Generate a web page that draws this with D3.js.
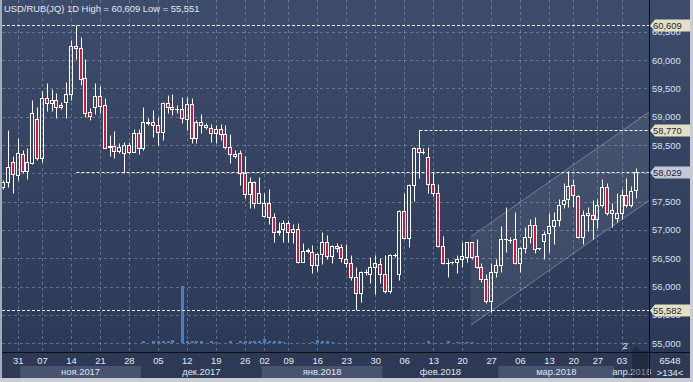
<!DOCTYPE html>
<html>
<head>
<meta charset="utf-8">
<script src="https://cdn.jsdelivr.net/npm/d3@7"></script>
<style>
  html, body { margin: 0; padding: 0; background: #2e3a56; }
  svg { display: block; font-family: "Liberation Sans", Arial, sans-serif; }
</style>
</head>
<body>
<svg width="693" height="382"></svg>
<script>
// daily bars, oldest first (USD/RUB, roubles)
const openP = [57.754,57.842,58.195,57.971,58.336,58.047,58.188,58.954,58.265,59.324,59.236,59.294,
  59.201,59.254,59.395,60.247,60.206,59.677,59.077,59.176,59.365,59.201,58.460,58.482,
  58.400,58.354,58.500,58.382,58.717,58.452,58.894,58.901,58.848,58.735,59.236,59.165,
  59.130,59.130,58.954,59.224,58.618,58.906,58.823,58.795,58.707,58.777,58.694,58.460,
  58.336,58.354,58.001,57.630,57.842,57.482,57.252,57.471,57.224,56.970,57.012,57.129,
  56.960,57.012,56.441,56.635,56.617,56.383,56.577,56.794,56.541,56.723,56.695,56.483,
  56.412,56.176,55.883,56.254,56.218,56.342,56.395,56.224,55.929,56.554,56.218,57.335,
  56.864,57.794,58.442,58.371,58.283,57.807,57.648,56.723,56.412,56.430,56.441,56.488,
  56.529,56.783,56.541,56.342,56.130,55.747,56.264,56.383,56.836,56.824,56.836,56.412,
  56.677,56.871,57.088,56.674,56.811,56.942,57.071,57.177,57.459,57.542,57.794,57.605,
  56.882,57.265,57.265,57.189,57.441,57.754,57.295,57.207,57.305,57.618,57.441,57.706];
const highP = [57.882,58.765,58.306,58.618,58.412,58.452,59.294,59.165,59.453,59.589,59.483,59.412,
  59.264,59.617,60.353,60.609,60.401,60.012,59.158,59.589,59.541,59.324,58.677,58.747,
  58.541,58.558,58.558,58.777,58.777,59.165,58.971,59.118,59.000,59.264,59.382,59.400,
  59.206,59.342,59.342,59.324,58.941,59.047,58.883,58.871,58.853,58.871,58.853,58.694,
  58.412,58.412,58.306,57.930,57.870,57.941,57.648,57.718,57.295,57.136,57.177,57.177,
  57.106,57.118,56.765,56.677,56.735,56.594,56.970,56.912,56.735,56.765,56.753,56.753,
  56.559,56.353,56.282,56.307,56.518,56.559,56.501,56.559,56.577,56.594,57.353,57.648,
  57.812,58.460,58.770,58.452,58.460,58.029,57.807,56.894,56.483,56.458,56.559,56.783,
  56.794,56.794,56.836,56.412,56.218,56.423,56.483,57.071,57.401,56.882,57.323,56.691,
  57.058,57.189,57.235,56.682,56.988,57.295,57.323,57.542,57.824,58.041,57.895,57.618,
  57.353,57.401,57.529,57.542,57.895,57.835,57.471,57.648,57.718,57.912,57.777,58.089];
const lowP = [57.724,57.764,57.658,57.882,58.011,57.900,58.165,58.235,58.205,59.105,59.105,58.971,
  59.130,58.982,59.294,60.012,59.559,59.000,58.941,59.042,59.059,58.442,58.306,58.265,
  58.354,58.029,58.341,58.368,58.341,58.412,58.853,58.647,58.500,58.588,59.070,59.029,
  59.059,58.894,58.765,58.541,58.541,58.717,58.777,58.558,58.541,58.588,58.424,58.188,
  58.276,57.794,57.570,57.394,57.394,57.471,57.235,57.106,56.794,56.912,56.794,56.794,
  56.776,56.423,56.430,56.600,56.236,56.282,56.400,56.483,56.423,56.617,56.441,56.353,
  56.118,55.582,55.735,56.206,56.070,55.871,56.070,55.883,55.894,56.524,56.118,56.836,
  56.705,57.517,57.912,58.341,57.648,57.605,56.705,56.395,56.176,56.395,56.247,56.353,
  56.441,56.483,56.324,56.088,55.717,55.551,56.176,56.264,56.617,56.776,56.400,56.264,
  56.600,56.765,56.600,56.647,56.488,56.617,56.748,57.071,57.383,57.411,57.401,56.854,
  56.748,56.988,56.836,57.030,57.411,57.265,57.048,57.147,57.189,57.411,57.401,57.560];
const closeP = [57.842,58.107,57.983,58.354,58.047,58.195,59.059,58.265,59.324,59.236,59.294,59.176,
  59.165,59.395,60.247,60.206,59.670,59.059,59.017,59.365,59.194,58.452,58.482,58.400,
  58.465,58.500,58.382,58.717,58.452,58.901,58.901,58.848,58.735,59.236,59.165,59.130,
  59.135,58.971,59.224,58.618,58.911,58.848,58.853,58.707,58.777,58.694,58.460,58.336,
  58.301,58.001,57.630,57.842,57.482,57.648,57.471,57.224,56.960,56.977,57.118,56.960,
  57.012,56.441,56.635,56.642,56.383,56.577,56.794,56.541,56.723,56.677,56.501,56.412,
  56.176,55.883,56.254,56.259,56.342,56.412,56.218,55.929,56.559,56.559,57.335,56.864,
  57.794,58.442,58.371,58.376,57.807,57.648,56.723,56.412,56.418,56.435,56.488,56.541,
  56.783,56.529,56.342,56.130,55.747,56.264,56.383,56.836,56.841,56.829,56.412,56.677,
  56.882,57.088,56.660,56.677,56.924,57.071,57.177,57.441,57.529,57.777,57.618,56.882,
  57.265,57.305,57.189,57.441,57.754,57.295,57.353,57.305,57.618,57.441,57.694,58.029];
const volume = [0,0,0,0,0,0,0,0,0,0,0,0,
  0,0,0,0,0,0,0,0,0,0,0,0,
  0,0,0,0,0,20,0,20,20,25,25,35,
  0,580,25,20,20,20,0,20,15,0,0,20,
  0,20,25,25,25,25,45,20,20,20,15,0,
  0,0,0,0,15,30,20,20,15,0,0,0,
  0,0,0,0,0,0,0,0,0,0,0,0,
  0,0,0,0,25,0,0,0,25,0,15,15,
  15,10,0,0,0,0,0,0,0,0,0,0,
  0,0,0,0,0,0,0,0,0,0,0,0,
  0,0,0,0,0,0,0,0,0,0,0,0];

// bottom axis: bar number of each labelled day and its label
const tickIdx = [4,9,15,21,27,33,39,45,51,55,60,66,72,78,84,90,96,102,108,114,119,124,129];
const tickLabels = ["31","07","14","21","28","05","12","19","26","02","09","16","23","30",
  "06","13","20","27","06","13","20","27","03"];
const monthNames = ["ноя.2017","дек.2017","янв.2018","фев.2018","мар.2018","апр.2018"];
const monthFirst = [5,30,55,80,104,128];
const monthLast = [29,54,79,103,127,136];

// horizontal levels (value, bar where the line starts) and the drawn channel
const levelValues = [60.609, 58.770, 58.029, 55.582];
const levelFrom = [0, 87, 16, 0];
const channelBars = [97.8, 136];
const channelTop = [56.882, 59.160];
const channelDepth = 1.562;

const svg = d3.select("svg");
const W = 693, H = 382;
const plotL = 2, plotR = 649, plotB = 352, axisB = 378;

const x = d3.scaleLinear().domain([1, 132]).range([3.3, 636]);
const y = d3.scaleLinear().domain([55, 60]).range([343.3, 60]);
const vy = d3.scaleLinear().domain([0, 600]).range([343, 284]);
const fmt = v => v.toFixed(3).replace(".", ",");

const bars = closeP.map((c, i) => ({ i: i + 1, o: openP[i], h: highP[i], l: lowP[i], c: c, v: volume[i] }));

// background
const defs = svg.append("defs");
const grad = defs.append("linearGradient").attr("id", "bg").attr("x1", 0).attr("y1", 0).attr("x2", 0).attr("y2", 1);
grad.append("stop").attr("offset", "0%").attr("stop-color", "#3e4c6b");
grad.append("stop").attr("offset", "100%").attr("stop-color", "#2c3a58");
defs.append("clipPath").attr("id", "clip").append("rect")
  .attr("x", plotL).attr("y", 0).attr("width", plotR - plotL).attr("height", plotB);

svg.append("rect").attr("width", W).attr("height", plotB).attr("fill", "url(#bg)");
svg.append("rect").attr("y", plotB).attr("width", W).attr("height", axisB - plotB).attr("fill", "#2e3a55");

// month bands under the day labels
monthNames.forEach((m, k) => {
  const x0 = Math.max(plotL, x(monthFirst[k] - 0.5));
  const x1 = Math.min(plotR, x(monthLast[k] + 0.5));
  if (k % 2 === 0) {
    svg.append("rect").attr("x", x0).attr("y", 366).attr("width", x1 - x0).attr("height", axisB - 366)
      .attr("fill", "#48546f");
  }
  svg.append("text").attr("x", (x0 + x1) / 2).attr("y", 375).attr("text-anchor", "middle")
    .attr("font-size", "9.4px").attr("fill", "#dfe5f0").text(m);
});

const plot = svg.append("g").attr("clip-path", "url(#clip)");

// grid
const gridC = "rgba(160,175,205,0.45)";
plot.append("g").selectAll("line").data(d3.range(55, 61, 0.5)).join("line")
  .attr("x1", plotL).attr("x2", plotR)
  .attr("y1", d => Math.round(y(d)) + 0.5).attr("y2", d => Math.round(y(d)) + 0.5)
  .attr("stroke", gridC).attr("stroke-dasharray", "3,3");
plot.append("g").selectAll("line").data(tickIdx).join("line")
  .attr("x1", d => Math.round(x(d)) + 0.5).attr("x2", d => Math.round(x(d)) + 0.5)
  .attr("y1", 0).attr("y2", plotB)
  .attr("stroke", gridC).attr("stroke-dasharray", "3,3");

// channel
const cx0 = x(channelBars[0]), cx1 = x(channelBars[1]);
plot.append("path")
  .attr("d", `M${cx0},${y(channelTop[0])}L${cx1},${y(channelTop[1])}L${cx1},${y(channelTop[1] - channelDepth)}L${cx0},${y(channelTop[0] - channelDepth)}Z`)
  .attr("fill", "rgba(255,255,255,0.07)");
[0, channelDepth].forEach(off => {
  plot.append("line")
    .attr("x1", cx0).attr("y1", y(channelTop[0] - off))
    .attr("x2", cx1).attr("y2", y(channelTop[1] - off))
    .attr("stroke", "rgba(220,228,245,0.35)").attr("stroke-width", 1);
});

// volume
plot.append("g").selectAll("rect").data(bars.filter(d => d.v > 0)).join("rect")
  .attr("x", d => Math.round(x(d.i)) - 1).attr("width", 3)
  .attr("y", d => Math.round(vy(d.v))).attr("height", d => 343 - Math.round(vy(d.v)))
  .attr("fill", "#4581c2");

// level lines
levelValues.forEach((v, k) => {
  const yy = Math.round(y(v)) + 0.5;
  plot.append("line").attr("x1", levelFrom[k] ? Math.round(x(levelFrom[k])) + 0.5 : plotL).attr("x2", plotR)
    .attr("y1", yy).attr("y2", yy)
    .attr("stroke", "#f2f4f8").attr("stroke-dasharray", "3,2");
});

// candles
const cg = plot.append("g").selectAll("g").data(bars).join("g");
const cX = d => Math.round(x(d.i));
const py = v => Math.round(y(v)) + 0.5;
cg.append("line")
  .attr("x1", d => cX(d) + 0.5).attr("x2", d => cX(d) + 0.5)
  .attr("y1", d => py(d.h)).attr("y2", d => py(Math.max(d.o, d.c)))
  .attr("stroke", "#ffffff");
cg.append("line")
  .attr("x1", d => cX(d) + 0.5).attr("x2", d => cX(d) + 0.5)
  .attr("y1", d => py(Math.min(d.o, d.c))).attr("y2", d => py(d.l))
  .attr("stroke", "#ffffff");
cg.append("rect")
  .attr("x", d => cX(d) - 1.5).attr("width", 3)
  .attr("y", d => py(Math.max(d.o, d.c)))
  .attr("height", d => Math.max(0.01, py(Math.min(d.o, d.c)) - py(Math.max(d.o, d.c))))
  .attr("fill", d => d.c < d.o ? "#e0103c" : "none")
  .attr("stroke", "#ffffff").attr("stroke-width", 1);

// title
svg.append("text").attr("x", 4).attr("y", 11.5).attr("font-size", "9.4px").attr("fill", "#e2e8f2")
  .text(`USD/RUB(JQ) 1D High = ${fmt(d3.max(highP))} Low = ${fmt(d3.min(lowP))}`);

// right price axis
const yAxis = svg.append("g").attr("transform", `translate(${plotR},0)`)
  .call(d3.axisRight(y).tickValues(d3.range(55, 60.6, 0.5)).tickSize(0).tickPadding(3).tickFormat(fmt));
yAxis.select(".domain").remove();
yAxis.selectAll("text").attr("font-size", "9.4px").attr("fill", "#d6e0f2").attr("font-family", null);

// bottom day axis
const xAxis = svg.append("g").attr("transform", `translate(0,${plotB})`)
  .call(d3.axisBottom(x).tickValues(tickIdx).tickSize(0).tickPadding(5).tickFormat((d, i) => tickLabels[i]));
xAxis.select(".domain").remove();
xAxis.selectAll("text").attr("font-size", "9.4px").attr("fill", "#e4e9f2").attr("font-family", null);

// price tags on the axis
levelValues.forEach((v, k) => {
  const yy = Math.round(y(v)) + 0.5;
  const last = v === closeP[closeP.length - 1];
  svg.append("path")
    .attr("d", `M${plotR + 1},${yy}L${plotR + 6},${yy - 6}L${W - 3},${yy - 6}L${W - 3},${yy + 6}L${plotR + 6},${yy + 6}Z`)
    .attr("fill", last ? "#c3c9d8" : "#e3e1c5");
  svg.append("text").attr("x", plotR + 4).attr("y", yy + 3.3).attr("font-size", "9.4px")
    .attr("fill", "#1d2436").text(fmt(v));
});

// extra labels
svg.append("text").attr("x", 625).attr("y", 349).attr("text-anchor", "middle")
  .attr("font-size", "9.4px").attr("fill", "#e8ecf4").text("2");
svg.append("path").attr("d", "M632,378L632,351L636,346L640,351L648,351L648,378Z")
  .attr("fill", "rgba(20,26,40,0.45)");
svg.append("text").attr("x", 670).attr("y", 363.5).attr("text-anchor", "middle")
  .attr("font-size", "9.4px").attr("fill", "#e4e9f2").text(d3.format("d")(6548));
svg.append("text").attr("x", 670).attr("y", 376).attr("text-anchor", "middle")
  .attr("font-size", "9.4px").attr("fill", "#e4e9f2").text(">" + 134 + "<");

// separators and frame
svg.append("line").attr("x1", 0).attr("x2", W).attr("y1", plotB + 0.5).attr("y2", plotB + 0.5).attr("stroke", "#0c0f18");
svg.append("line").attr("x1", plotR + 0.5).attr("x2", plotR + 0.5).attr("y1", 0).attr("y2", axisB).attr("stroke", "#0c0f18");
svg.append("rect").attr("x", 0).attr("y", 0).attr("width", 2).attr("height", H).attr("fill", "#a4acbc");
svg.append("rect").attr("x", W - 3).attr("y", 0).attr("width", 3).attr("height", H).attr("fill", "#c9ccd2");
svg.append("rect").attr("x", 0).attr("y", axisB).attr("width", W).attr("height", H - axisB).attr("fill", "#c9ccd2");
</script>
</body>
</html>
